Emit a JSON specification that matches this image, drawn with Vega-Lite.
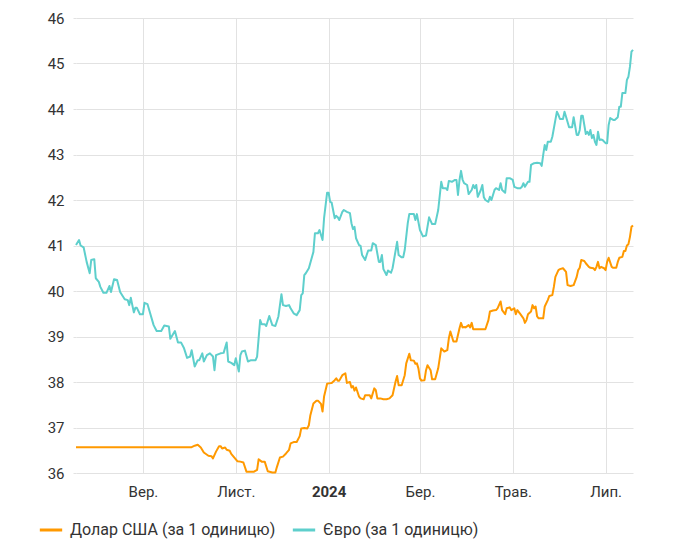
{
"$schema":"https://vega.github.io/schema/vega-lite/v6.json",
"width":557,"height":455,
"autosize":{"type":"none"},
"padding":{"left":76,"top":18,"right":44,"bottom":78},
"background":"white",
"config":{"view":{"stroke":null},"font":"Roboto"},
"data":{"values":[
{"d":"2023-07-19","s":"EUR","v":41.01},{"d":"2023-07-21","s":"EUR","v":41.12},{"d":"2023-07-22","s":"EUR","v":41.00},{"d":"2023-07-24","s":"EUR","v":40.96},{"d":"2023-07-26","s":"EUR","v":40.64},{"d":"2023-07-28","s":"EUR","v":40.39},{"d":"2023-07-29","s":"EUR","v":40.68},{"d":"2023-07-31","s":"EUR","v":40.70},
{"d":"2023-08-01","s":"EUR","v":40.28},{"d":"2023-08-03","s":"EUR","v":40.20},{"d":"2023-08-04","s":"EUR","v":40.09},{"d":"2023-08-06","s":"EUR","v":39.96},{"d":"2023-08-08","s":"EUR","v":39.96},{"d":"2023-08-10","s":"EUR","v":40.11},{"d":"2023-08-11","s":"EUR","v":39.98},{"d":"2023-08-13","s":"EUR","v":40.26},{"d":"2023-08-15","s":"EUR","v":40.24},{"d":"2023-08-17","s":"EUR","v":39.98},{"d":"2023-08-20","s":"EUR","v":39.82},{"d":"2023-08-22","s":"EUR","v":39.80},{"d":"2023-08-23","s":"EUR","v":39.69},{"d":"2023-08-24","s":"EUR","v":39.85},{"d":"2023-08-26","s":"EUR","v":39.53},{"d":"2023-08-27","s":"EUR","v":39.63},{"d":"2023-08-28","s":"EUR","v":39.63},{"d":"2023-08-30","s":"EUR","v":39.49},
{"d":"2023-09-01","s":"EUR","v":39.49},{"d":"2023-09-02","s":"EUR","v":39.74},{"d":"2023-09-04","s":"EUR","v":39.71},{"d":"2023-09-08","s":"EUR","v":39.25},{"d":"2023-09-10","s":"EUR","v":39.12},{"d":"2023-09-13","s":"EUR","v":39.12},{"d":"2023-09-15","s":"EUR","v":39.24},{"d":"2023-09-18","s":"EUR","v":39.22},{"d":"2023-09-19","s":"EUR","v":38.95},{"d":"2023-09-22","s":"EUR","v":39.12},{"d":"2023-09-24","s":"EUR","v":38.87},{"d":"2023-09-26","s":"EUR","v":38.87},{"d":"2023-09-28","s":"EUR","v":38.74},{"d":"2023-09-30","s":"EUR","v":38.53},
{"d":"2023-10-02","s":"EUR","v":38.56},{"d":"2023-10-03","s":"EUR","v":38.70},{"d":"2023-10-05","s":"EUR","v":38.34},{"d":"2023-10-07","s":"EUR","v":38.48},{"d":"2023-10-08","s":"EUR","v":38.48},{"d":"2023-10-10","s":"EUR","v":38.63},{"d":"2023-10-11","s":"EUR","v":38.45},{"d":"2023-10-13","s":"EUR","v":38.59},{"d":"2023-10-15","s":"EUR","v":38.63},{"d":"2023-10-17","s":"EUR","v":38.56},{"d":"2023-10-18","s":"EUR","v":38.26},{"d":"2023-10-19","s":"EUR","v":38.59},{"d":"2023-10-22","s":"EUR","v":38.63},{"d":"2023-10-24","s":"EUR","v":38.64},{"d":"2023-10-26","s":"EUR","v":38.87},{"d":"2023-10-27","s":"EUR","v":38.45},{"d":"2023-10-29","s":"EUR","v":38.42},{"d":"2023-10-31","s":"EUR","v":38.37},
{"d":"2023-11-01","s":"EUR","v":38.52},{"d":"2023-11-03","s":"EUR","v":38.23},{"d":"2023-11-04","s":"EUR","v":38.59},{"d":"2023-11-05","s":"EUR","v":38.67},{"d":"2023-11-07","s":"EUR","v":38.69},{"d":"2023-11-09","s":"EUR","v":38.45},{"d":"2023-11-11","s":"EUR","v":38.48},{"d":"2023-11-14","s":"EUR","v":38.48},{"d":"2023-11-15","s":"EUR","v":38.56},{"d":"2023-11-17","s":"EUR","v":39.36},{"d":"2023-11-18","s":"EUR","v":39.27},{"d":"2023-11-20","s":"EUR","v":39.27},{"d":"2023-11-21","s":"EUR","v":39.23},{"d":"2023-11-23","s":"EUR","v":39.45},{"d":"2023-11-25","s":"EUR","v":39.25},{"d":"2023-11-27","s":"EUR","v":39.23},{"d":"2023-11-29","s":"EUR","v":39.44},
{"d":"2023-12-01","s":"EUR","v":39.93},{"d":"2023-12-02","s":"EUR","v":39.69},{"d":"2023-12-04","s":"EUR","v":39.67},{"d":"2023-12-06","s":"EUR","v":39.69},{"d":"2023-12-07","s":"EUR","v":39.62},{"d":"2023-12-09","s":"EUR","v":39.51},{"d":"2023-12-11","s":"EUR","v":39.47},{"d":"2023-12-13","s":"EUR","v":39.58},{"d":"2023-12-14","s":"EUR","v":39.91},{"d":"2023-12-15","s":"EUR","v":39.95},{"d":"2023-12-16","s":"EUR","v":40.35},{"d":"2023-12-17","s":"EUR","v":40.39},{"d":"2023-12-19","s":"EUR","v":40.50},{"d":"2023-12-22","s":"EUR","v":40.86},{"d":"2023-12-23","s":"EUR","v":41.27},{"d":"2023-12-25","s":"EUR","v":41.27},{"d":"2023-12-26","s":"EUR","v":41.34},{"d":"2023-12-28","s":"EUR","v":41.12},{"d":"2023-12-29","s":"EUR","v":41.60},{"d":"2023-12-31","s":"EUR","v":42.16},
{"d":"2024-01-01","s":"EUR","v":42.16},{"d":"2024-01-02","s":"EUR","v":41.96},{"d":"2024-01-03","s":"EUR","v":41.94},{"d":"2024-01-05","s":"EUR","v":41.60},{"d":"2024-01-06","s":"EUR","v":41.65},{"d":"2024-01-07","s":"EUR","v":41.62},{"d":"2024-01-08","s":"EUR","v":41.56},{"d":"2024-01-10","s":"EUR","v":41.74},{"d":"2024-01-11","s":"EUR","v":41.78},{"d":"2024-01-13","s":"EUR","v":41.74},{"d":"2024-01-15","s":"EUR","v":41.71},{"d":"2024-01-16","s":"EUR","v":41.49},{"d":"2024-01-17","s":"EUR","v":41.36},{"d":"2024-01-18","s":"EUR","v":41.41},{"d":"2024-01-19","s":"EUR","v":41.16},{"d":"2024-01-21","s":"EUR","v":41.01},{"d":"2024-01-22","s":"EUR","v":40.99},{"d":"2024-01-23","s":"EUR","v":40.79},{"d":"2024-01-25","s":"EUR","v":40.68},{"d":"2024-01-26","s":"EUR","v":40.79},{"d":"2024-01-27","s":"EUR","v":40.89},{"d":"2024-01-29","s":"EUR","v":40.89},{"d":"2024-01-30","s":"EUR","v":41.05},
{"d":"2024-02-01","s":"EUR","v":41.01},{"d":"2024-02-03","s":"EUR","v":40.64},{"d":"2024-02-04","s":"EUR","v":40.64},{"d":"2024-02-05","s":"EUR","v":40.79},{"d":"2024-02-06","s":"EUR","v":40.48},{"d":"2024-02-08","s":"EUR","v":40.35},{"d":"2024-02-09","s":"EUR","v":40.45},{"d":"2024-02-11","s":"EUR","v":40.40},{"d":"2024-02-12","s":"EUR","v":40.50},{"d":"2024-02-15","s":"EUR","v":41.08},{"d":"2024-02-16","s":"EUR","v":40.79},{"d":"2024-02-18","s":"EUR","v":40.74},{"d":"2024-02-19","s":"EUR","v":40.74},{"d":"2024-02-20","s":"EUR","v":40.90},{"d":"2024-02-22","s":"EUR","v":41.49},{"d":"2024-02-23","s":"EUR","v":41.69},{"d":"2024-02-26","s":"EUR","v":41.69},{"d":"2024-02-27","s":"EUR","v":41.56},{"d":"2024-02-28","s":"EUR","v":41.69},
{"d":"2024-03-01","s":"EUR","v":41.34},{"d":"2024-03-03","s":"EUR","v":41.20},{"d":"2024-03-05","s":"EUR","v":41.22},{"d":"2024-03-07","s":"EUR","v":41.62},{"d":"2024-03-09","s":"EUR","v":41.47},{"d":"2024-03-11","s":"EUR","v":41.47},{"d":"2024-03-13","s":"EUR","v":41.78},{"d":"2024-03-15","s":"EUR","v":42.40},{"d":"2024-03-16","s":"EUR","v":42.26},{"d":"2024-03-18","s":"EUR","v":42.26},{"d":"2024-03-19","s":"EUR","v":42.22},{"d":"2024-03-20","s":"EUR","v":42.42},{"d":"2024-03-22","s":"EUR","v":42.40},{"d":"2024-03-24","s":"EUR","v":42.44},{"d":"2024-03-25","s":"EUR","v":42.44},{"d":"2024-03-26","s":"EUR","v":42.11},{"d":"2024-03-27","s":"EUR","v":42.44},{"d":"2024-03-28","s":"EUR","v":42.64},{"d":"2024-03-29","s":"EUR","v":42.45},{"d":"2024-03-30","s":"EUR","v":42.37},
{"d":"2024-04-01","s":"EUR","v":42.33},{"d":"2024-04-02","s":"EUR","v":42.13},{"d":"2024-04-04","s":"EUR","v":42.22},{"d":"2024-04-05","s":"EUR","v":42.33},{"d":"2024-04-06","s":"EUR","v":42.26},{"d":"2024-04-07","s":"EUR","v":42.33},{"d":"2024-04-08","s":"EUR","v":42.07},{"d":"2024-04-10","s":"EUR","v":42.22},{"d":"2024-04-11","s":"EUR","v":42.33},{"d":"2024-04-12","s":"EUR","v":42.06},{"d":"2024-04-13","s":"EUR","v":42.00},{"d":"2024-04-15","s":"EUR","v":41.96},{"d":"2024-04-16","s":"EUR","v":42.07},{"d":"2024-04-17","s":"EUR","v":42.00},{"d":"2024-04-19","s":"EUR","v":42.22},{"d":"2024-04-20","s":"EUR","v":42.26},{"d":"2024-04-22","s":"EUR","v":42.22},{"d":"2024-04-23","s":"EUR","v":42.37},{"d":"2024-04-24","s":"EUR","v":42.22},{"d":"2024-04-26","s":"EUR","v":42.16},{"d":"2024-04-27","s":"EUR","v":42.48},{"d":"2024-04-29","s":"EUR","v":42.48},
{"d":"2024-05-01","s":"EUR","v":42.44},{"d":"2024-05-02","s":"EUR","v":42.29},{"d":"2024-05-04","s":"EUR","v":42.26},{"d":"2024-05-06","s":"EUR","v":42.26},{"d":"2024-05-07","s":"EUR","v":42.29},{"d":"2024-05-08","s":"EUR","v":42.37},{"d":"2024-05-09","s":"EUR","v":42.29},{"d":"2024-05-11","s":"EUR","v":42.40},{"d":"2024-05-12","s":"EUR","v":42.40},{"d":"2024-05-13","s":"EUR","v":42.77},{"d":"2024-05-15","s":"EUR","v":42.81},{"d":"2024-05-17","s":"EUR","v":42.82},{"d":"2024-05-19","s":"EUR","v":42.81},{"d":"2024-05-20","s":"EUR","v":42.75},{"d":"2024-05-21","s":"EUR","v":42.99},{"d":"2024-05-22","s":"EUR","v":43.21},{"d":"2024-05-23","s":"EUR","v":43.10},{"d":"2024-05-24","s":"EUR","v":43.28},{"d":"2024-05-26","s":"EUR","v":43.28},{"d":"2024-05-27","s":"EUR","v":43.39},{"d":"2024-05-29","s":"EUR","v":43.76},{"d":"2024-05-30","s":"EUR","v":43.94},{"d":"2024-05-31","s":"EUR","v":43.87},
{"d":"2024-06-01","s":"EUR","v":43.78},{"d":"2024-06-03","s":"EUR","v":43.78},{"d":"2024-06-04","s":"EUR","v":43.94},{"d":"2024-06-05","s":"EUR","v":43.83},{"d":"2024-06-07","s":"EUR","v":43.60},{"d":"2024-06-08","s":"EUR","v":43.60},{"d":"2024-06-09","s":"EUR","v":43.60},{"d":"2024-06-10","s":"EUR","v":43.82},{"d":"2024-06-12","s":"EUR","v":43.43},{"d":"2024-06-13","s":"EUR","v":43.43},{"d":"2024-06-14","s":"EUR","v":43.54},{"d":"2024-06-15","s":"EUR","v":43.85},{"d":"2024-06-16","s":"EUR","v":43.85},{"d":"2024-06-18","s":"EUR","v":43.45},{"d":"2024-06-19","s":"EUR","v":43.50},{"d":"2024-06-20","s":"EUR","v":43.43},{"d":"2024-06-21","s":"EUR","v":43.54},{"d":"2024-06-22","s":"EUR","v":43.36},{"d":"2024-06-23","s":"EUR","v":43.43},{"d":"2024-06-24","s":"EUR","v":43.28},{"d":"2024-06-25","s":"EUR","v":43.21},{"d":"2024-06-26","s":"EUR","v":43.50},{"d":"2024-06-27","s":"EUR","v":43.32},{"d":"2024-06-28","s":"EUR","v":43.33},{"d":"2024-06-29","s":"EUR","v":43.32},
{"d":"2024-07-01","s":"EUR","v":43.25},{"d":"2024-07-02","s":"EUR","v":43.25},{"d":"2024-07-03","s":"EUR","v":43.65},{"d":"2024-07-04","s":"EUR","v":43.80},{"d":"2024-07-06","s":"EUR","v":43.76},{"d":"2024-07-07","s":"EUR","v":43.76},{"d":"2024-07-09","s":"EUR","v":43.82},{"d":"2024-07-10","s":"EUR","v":44.05},{"d":"2024-07-11","s":"EUR","v":44.05},{"d":"2024-07-12","s":"EUR","v":44.35},{"d":"2024-07-14","s":"EUR","v":44.35},{"d":"2024-07-15","s":"EUR","v":44.64},{"d":"2024-07-16","s":"EUR","v":44.71},{"d":"2024-07-17","s":"EUR","v":44.93},{"d":"2024-07-18","s":"EUR","v":45.26},{"d":"2024-07-19","s":"EUR","v":45.30},
{"d":"2023-07-19","s":"USD","v":36.5686},{"d":"2023-10-03","s":"USD","v":36.5686},{"d":"2023-10-05","s":"USD","v":36.60},{"d":"2023-10-07","s":"USD","v":36.62},{"d":"2023-10-09","s":"USD","v":36.56},{"d":"2023-10-11","s":"USD","v":36.45},{"d":"2023-10-14","s":"USD","v":36.38},{"d":"2023-10-16","s":"USD","v":36.37},{"d":"2023-10-17","s":"USD","v":36.32},{"d":"2023-10-19","s":"USD","v":36.47},{"d":"2023-10-21","s":"USD","v":36.59},{"d":"2023-10-22","s":"USD","v":36.59},{"d":"2023-10-23","s":"USD","v":36.54},{"d":"2023-10-25","s":"USD","v":36.56},{"d":"2023-10-26","s":"USD","v":36.51},{"d":"2023-10-28","s":"USD","v":36.49},{"d":"2023-10-29","s":"USD","v":36.42},
{"d":"2023-11-02","s":"USD","v":36.26},{"d":"2023-11-04","s":"USD","v":36.25},{"d":"2023-11-06","s":"USD","v":36.23},{"d":"2023-11-08","s":"USD","v":36.03},{"d":"2023-11-10","s":"USD","v":36.03},{"d":"2023-11-13","s":"USD","v":36.03},{"d":"2023-11-15","s":"USD","v":36.07},{"d":"2023-11-16","s":"USD","v":36.30},{"d":"2023-11-18","s":"USD","v":36.25},{"d":"2023-11-20","s":"USD","v":36.25},{"d":"2023-11-22","s":"USD","v":36.04},{"d":"2023-11-25","s":"USD","v":36.01},{"d":"2023-11-27","s":"USD","v":36.01},{"d":"2023-11-28","s":"USD","v":36.13},{"d":"2023-11-30","s":"USD","v":36.34},
{"d":"2023-12-02","s":"USD","v":36.36},{"d":"2023-12-04","s":"USD","v":36.43},{"d":"2023-12-06","s":"USD","v":36.51},{"d":"2023-12-07","s":"USD","v":36.65},{"d":"2023-12-09","s":"USD","v":36.68},{"d":"2023-12-11","s":"USD","v":36.68},{"d":"2023-12-13","s":"USD","v":36.81},{"d":"2023-12-14","s":"USD","v":36.98},{"d":"2023-12-16","s":"USD","v":36.99},{"d":"2023-12-18","s":"USD","v":36.98},{"d":"2023-12-19","s":"USD","v":37.05},{"d":"2023-12-20","s":"USD","v":37.27},{"d":"2023-12-22","s":"USD","v":37.53},{"d":"2023-12-24","s":"USD","v":37.59},{"d":"2023-12-25","s":"USD","v":37.59},{"d":"2023-12-27","s":"USD","v":37.52},{"d":"2023-12-28","s":"USD","v":37.35},{"d":"2023-12-29","s":"USD","v":37.68},{"d":"2023-12-31","s":"USD","v":37.96},
{"d":"2024-01-01","s":"USD","v":37.97},{"d":"2024-01-03","s":"USD","v":37.98},{"d":"2024-01-05","s":"USD","v":38.04},{"d":"2024-01-06","s":"USD","v":38.08},{"d":"2024-01-07","s":"USD","v":38.03},{"d":"2024-01-08","s":"USD","v":38.03},{"d":"2024-01-10","s":"USD","v":38.15},{"d":"2024-01-12","s":"USD","v":38.19},{"d":"2024-01-13","s":"USD","v":37.98},{"d":"2024-01-15","s":"USD","v":38.00},{"d":"2024-01-16","s":"USD","v":37.88},{"d":"2024-01-17","s":"USD","v":37.91},{"d":"2024-01-18","s":"USD","v":37.81},{"d":"2024-01-19","s":"USD","v":37.88},{"d":"2024-01-21","s":"USD","v":37.68},{"d":"2024-01-22","s":"USD","v":37.64},{"d":"2024-01-24","s":"USD","v":37.62},{"d":"2024-01-25","s":"USD","v":37.71},{"d":"2024-01-28","s":"USD","v":37.71},{"d":"2024-01-29","s":"USD","v":37.64},{"d":"2024-01-31","s":"USD","v":37.86},
{"d":"2024-02-01","s":"USD","v":37.82},{"d":"2024-02-02","s":"USD","v":37.64},{"d":"2024-02-04","s":"USD","v":37.64},{"d":"2024-02-06","s":"USD","v":37.62},{"d":"2024-02-08","s":"USD","v":37.62},{"d":"2024-02-10","s":"USD","v":37.64},{"d":"2024-02-12","s":"USD","v":37.71},{"d":"2024-02-14","s":"USD","v":38.01},{"d":"2024-02-15","s":"USD","v":38.13},{"d":"2024-02-16","s":"USD","v":37.93},{"d":"2024-02-18","s":"USD","v":37.93},{"d":"2024-02-20","s":"USD","v":38.15},{"d":"2024-02-21","s":"USD","v":38.41},{"d":"2024-02-23","s":"USD","v":38.62},{"d":"2024-02-24","s":"USD","v":38.48},{"d":"2024-02-26","s":"USD","v":38.47},{"d":"2024-02-27","s":"USD","v":38.40},{"d":"2024-02-28","s":"USD","v":38.41},{"d":"2024-02-29","s":"USD","v":38.30},
{"d":"2024-03-01","s":"USD","v":38.08},{"d":"2024-03-02","s":"USD","v":38.03},{"d":"2024-03-04","s":"USD","v":38.04},{"d":"2024-03-05","s":"USD","v":38.26},{"d":"2024-03-06","s":"USD","v":38.37},{"d":"2024-03-08","s":"USD","v":38.26},{"d":"2024-03-09","s":"USD","v":38.06},{"d":"2024-03-11","s":"USD","v":38.06},{"d":"2024-03-13","s":"USD","v":38.30},{"d":"2024-03-14","s":"USD","v":38.52},{"d":"2024-03-15","s":"USD","v":38.74},{"d":"2024-03-17","s":"USD","v":38.67},{"d":"2024-03-19","s":"USD","v":38.70},{"d":"2024-03-20","s":"USD","v":38.96},{"d":"2024-03-21","s":"USD","v":39.11},{"d":"2024-03-23","s":"USD","v":38.89},{"d":"2024-03-25","s":"USD","v":38.89},{"d":"2024-03-27","s":"USD","v":39.18},{"d":"2024-03-28","s":"USD","v":39.30},{"d":"2024-03-29","s":"USD","v":39.20},{"d":"2024-03-30","s":"USD","v":39.21},{"d":"2024-03-31","s":"USD","v":39.20},
{"d":"2024-04-02","s":"USD","v":39.25},{"d":"2024-04-03","s":"USD","v":39.20},{"d":"2024-04-04","s":"USD","v":39.30},{"d":"2024-04-05","s":"USD","v":39.16},{"d":"2024-04-06","s":"USD","v":39.16},{"d":"2024-04-08","s":"USD","v":39.16},{"d":"2024-04-11","s":"USD","v":39.16},{"d":"2024-04-13","s":"USD","v":39.16},{"d":"2024-04-15","s":"USD","v":39.36},{"d":"2024-04-16","s":"USD","v":39.55},{"d":"2024-04-18","s":"USD","v":39.57},{"d":"2024-04-20","s":"USD","v":39.58},{"d":"2024-04-21","s":"USD","v":39.62},{"d":"2024-04-23","s":"USD","v":39.77},{"d":"2024-04-24","s":"USD","v":39.58},{"d":"2024-04-26","s":"USD","v":39.49},{"d":"2024-04-27","s":"USD","v":39.62},{"d":"2024-04-29","s":"USD","v":39.64},{"d":"2024-04-30","s":"USD","v":39.58},
{"d":"2024-05-02","s":"USD","v":39.62},{"d":"2024-05-03","s":"USD","v":39.49},{"d":"2024-05-04","s":"USD","v":39.58},{"d":"2024-05-06","s":"USD","v":39.49},{"d":"2024-05-08","s":"USD","v":39.40},{"d":"2024-05-09","s":"USD","v":39.30},{"d":"2024-05-10","s":"USD","v":39.36},{"d":"2024-05-11","s":"USD","v":39.49},{"d":"2024-05-13","s":"USD","v":39.55},{"d":"2024-05-14","s":"USD","v":39.69},{"d":"2024-05-15","s":"USD","v":39.62},{"d":"2024-05-16","s":"USD","v":39.66},{"d":"2024-05-17","s":"USD","v":39.44},{"d":"2024-05-18","s":"USD","v":39.40},{"d":"2024-05-21","s":"USD","v":39.40},{"d":"2024-05-22","s":"USD","v":39.66},{"d":"2024-05-24","s":"USD","v":39.80},{"d":"2024-05-25","s":"USD","v":39.89},{"d":"2024-05-27","s":"USD","v":39.91},{"d":"2024-05-28","s":"USD","v":40.09},{"d":"2024-05-29","s":"USD","v":40.31},{"d":"2024-05-31","s":"USD","v":40.46},
{"d":"2024-06-01","s":"USD","v":40.48},{"d":"2024-06-03","s":"USD","v":40.50},{"d":"2024-06-05","s":"USD","v":40.42},{"d":"2024-06-06","s":"USD","v":40.13},{"d":"2024-06-08","s":"USD","v":40.11},{"d":"2024-06-10","s":"USD","v":40.13},{"d":"2024-06-12","s":"USD","v":40.31},{"d":"2024-06-13","s":"USD","v":40.46},{"d":"2024-06-14","s":"USD","v":40.51},{"d":"2024-06-15","s":"USD","v":40.68},{"d":"2024-06-17","s":"USD","v":40.66},{"d":"2024-06-18","s":"USD","v":40.61},{"d":"2024-06-20","s":"USD","v":40.53},{"d":"2024-06-21","s":"USD","v":40.51},{"d":"2024-06-23","s":"USD","v":40.50},{"d":"2024-06-24","s":"USD","v":40.46},{"d":"2024-06-25","s":"USD","v":40.53},{"d":"2024-06-26","s":"USD","v":40.64},{"d":"2024-06-27","s":"USD","v":40.50},{"d":"2024-06-28","s":"USD","v":40.53},{"d":"2024-06-30","s":"USD","v":40.50},
{"d":"2024-07-01","s":"USD","v":40.46},{"d":"2024-07-02","s":"USD","v":40.64},{"d":"2024-07-03","s":"USD","v":40.73},{"d":"2024-07-05","s":"USD","v":40.53},{"d":"2024-07-06","s":"USD","v":40.51},{"d":"2024-07-08","s":"USD","v":40.51},{"d":"2024-07-09","s":"USD","v":40.64},{"d":"2024-07-10","s":"USD","v":40.73},{"d":"2024-07-12","s":"USD","v":40.75},{"d":"2024-07-13","s":"USD","v":40.88},{"d":"2024-07-14","s":"USD","v":40.88},{"d":"2024-07-15","s":"USD","v":41.00},{"d":"2024-07-16","s":"USD","v":41.03},{"d":"2024-07-17","s":"USD","v":41.19},{"d":"2024-07-18","s":"USD","v":41.41},{"d":"2024-07-19","s":"USD","v":41.44}
]},
"mark":{"type":"line","strokeWidth":2,"strokeJoin":"round"},
"encoding":{
"x":{"field":"d","type":"temporal",
"scale":{"type":"utc","nice":false,"domain":[{"year":2023,"month":7,"date":19,"utc":true},{"year":2024,"month":7,"date":19,"utc":true}]},
"axis":{"title":null,"grid":true,"gridColor":"#e2e2e2","ticks":false,"domain":false,"labelFontSize":15,"labelColor":"#333333","labelPadding":11,"labelFont":"Roboto",
"values":[{"year":2023,"month":9,"date":1,"utc":true},{"year":2023,"month":11,"date":1,"utc":true},{"year":2024,"month":1,"date":1,"utc":true},{"year":2024,"month":3,"date":1,"utc":true},{"year":2024,"month":5,"date":1,"utc":true},{"year":2024,"month":7,"date":1,"utc":true}],
"labelExpr":"utcmonth(datum.value)==0 ? '2024' : ['Січ.','Лют.','Бер.','Квіт.','Трав.','Черв.','Лип.','Серп.','Вер.','Жовт.','Лист.','Груд.'][utcmonth(datum.value)]",
"labelFontWeight":{"condition":{"test":"utcmonth(datum.value)==0","value":"bold"},"value":"normal"}}},
"y":{"field":"v","type":"quantitative",
"scale":{"domain":[36,46],"nice":false,"zero":false},
"axis":{"title":null,"values":[36,37,38,39,40,41,42,43,44,45,46],"grid":true,"gridColor":"#e2e2e2","tickColor":"#e2e2e2","tickSize":3,"domain":false,"labelPadding":9,"labelFontSize":15,"labelColor":"#333333","labelFont":"Roboto"}},
"color":{"field":"s","type":"nominal",
"scale":{"domain":["USD","EUR"],"range":["#ff9900","#5ecfcc"]},
"legend":{"title":null,"orient":"none","legendX":-38,"legendY":499,"direction":"horizontal","symbolType":"stroke","symbolStrokeWidth":3,"symbolSize":500,"labelFontSize":16,"labelColor":"#333333","labelFont":"Roboto","labelOffset":6,"columnPadding":10,"labelLimit":400,
"labelExpr":"datum.label=='USD' ? 'Долар США (за 1 одиницю)' : 'Євро (за 1 одиницю)'"}}
}
}
